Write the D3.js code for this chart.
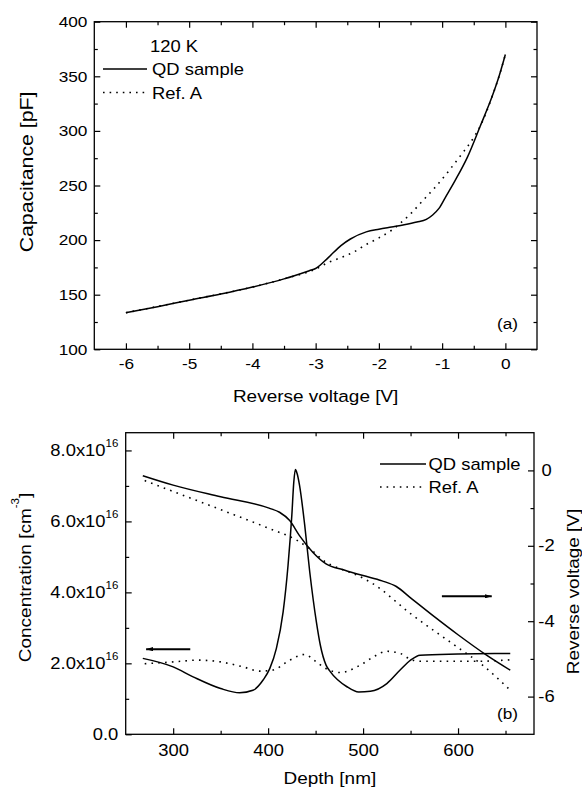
<!DOCTYPE html>
<html>
<head>
<meta charset="utf-8">
<script src="https://cdn.jsdelivr.net/npm/d3@7"></script>
<style>
  body { margin: 0; background: #fff; }
  svg { display: block; font-family: "Liberation Sans", Arial, sans-serif; }
</style>
</head>
<body>
<svg width="582" height="789"></svg>
<script>
// (a) C-V curves at 120 K
const cvVoltQD = [-6, -5.5, -5, -4.5, -4, -3.5, -3.1, -3.0, -2.8, -2.6, -2.45, -2.2, -2.0, -1.8, -1.6, -1.4, -1.25, -1.15, -1.05, -0.95, -0.8, -0.6, -0.4, -0.2, -0.1, 0];
const cvCapQD  = [133.5, 139, 145, 150.6, 157, 164.5, 172, 174, 184, 195, 201, 207.5, 210, 212, 214, 216.5, 219, 223, 229, 239, 254, 276, 304, 333, 350, 370];
const cvVoltRef = [-6, -5, -4, -3.5, -3.0, -2.8, -2.6, -2.4, -2.2, -2.0, -1.8, -1.67, -1.5, -1.3, -1.1, -0.9, -0.7, -0.5, -0.4, -0.2, -0.1, 0];
const cvCapRef  = [133.5, 145, 157, 164.5, 173.5, 179.5, 184, 189, 196, 202, 209, 215, 224, 236.5, 249, 263, 278, 294, 304, 333, 350, 370];

// (b) carrier concentration profiles (x1e16 cm^-3)
const ncDepthQD = [268, 300, 321, 350, 370, 384, 394.7, 401.7, 408.7, 415.8, 421, 425, 427, 428.7, 430.5, 433, 438.5, 443.8, 450.8, 455, 461, 465.6, 483, 495.4, 507.7, 525, 539, 550, 560, 600, 655];
const ncConcQD  = [2.14, 1.90, 1.62, 1.29, 1.17, 1.24, 1.53, 1.85, 2.42, 3.45, 4.77, 6.19, 7.1, 7.46, 7.35, 7.03, 5.9, 4.58, 3.17, 2.51, 1.95, 1.76, 1.34, 1.19, 1.21, 1.43, 1.81, 2.09, 2.23, 2.26, 2.28];
const ncDepthRef = [270, 300, 326, 350, 373.7, 391, 405, 422.7, 438.5, 450.8, 461, 476, 497, 512, 525, 539, 550, 560, 600, 623, 655];
const ncConcRef  = [1.99, 2.04, 2.09, 2.04, 1.90, 1.78, 1.81, 2.09, 2.25, 2.04, 1.85, 1.74, 1.95, 2.2, 2.34, 2.28, 2.11, 2.06, 2.06, 2.06, 2.10];

// (b) reverse voltage vs depth
const vDepthQD = [268, 300, 350, 401, 412, 422.7, 433, 447, 461, 480, 500, 520, 535, 550, 575, 600, 630, 655];
const vVoltQD  = [-0.14, -0.39, -0.70, -1.0, -1.11, -1.33, -1.73, -2.17, -2.48, -2.64, -2.79, -2.93, -3.08, -3.38, -3.88, -4.36, -4.9, -5.3];
const vDepthRef = [270, 300, 350, 400, 430, 445, 460, 475, 490, 510, 550, 600, 625, 655];
const vVoltRef  = [-0.27, -0.56, -1.04, -1.53, -1.85, -2.1, -2.42, -2.6, -2.74, -3.0, -3.8, -4.7, -5.15, -5.83];

// ticks
const voltTicks = [-6, -5, -4, -3, -2, -1, 0];
const voltMinor = [-5.5, -4.5, -3.5, -2.5, -1.5, -0.5];
const capTicks = [100, 150, 200, 250, 300, 350, 400];
const capMinor = [125, 175, 225, 275, 325, 375];
const depthTicks = [300, 400, 500, 600];
const depthMinor = [350, 450, 550, 650];
const concTicks = [0, 2, 4, 6, 8];
const concMinor = [1, 3, 5, 7];
const revTicks = [-6, -4, -2, 0];
const revMinor = [-5, -3, -1];

const W = 1.15; // glyphs in the original are a bit wider than Arial
const FONT = "Liberation Sans, Arial, sans-serif";
const svg = d3.select("svg");

const xA = d3.scaleLinear().domain([-6.5, 0.5]).range([94.3, 537]);
const yA = d3.scaleLinear().domain([100, 400]).range([349.3, 21.7]);
const xB = d3.scaleLinear().domain([250, 680]).range([125.7, 534]);
const yB = d3.scaleLinear().domain([0, 8.5]).range([734.3, 432.7]);
const yV = d3.scaleLinear().domain([-7, 1]).range([734.3, 432.7]);

// plain hyphen for negatives, like the original
const plain = d => String(d);

function axis(gen, at, values, minor, pad, fs, fmt) {
  const g = svg.append("g").attr("transform", at);
  g.call(gen.tickValues(values).tickSizeInner(-6).tickSizeOuter(0).tickPadding(pad)
    .tickFormat(fmt === undefined ? plain : fmt));
  g.attr("font-family", FONT).attr("font-size", fs);
  g.select(".domain").remove();
  g.selectAll(".tick line").attr("stroke", "#000").attr("stroke-width", 1.2);
  g.selectAll(".tick text").attr("fill", "#000").attr("transform", `scale(${W},1)`);
  const m = svg.append("g").attr("transform", at);
  m.call(gen.tickValues(minor).tickSizeInner(-3.5).tickFormat(""));
  m.select(".domain").remove();
  m.selectAll(".tick line").attr("stroke", "#000").attr("stroke-width", 1.2);
  return g;
}

function label(txt, x, y, fs, rot, anchor) {
  return svg.append("text")
    .attr("transform", `translate(${x},${y})` + (rot ? ` rotate(${rot})` : "") + ` scale(${W},1)`)
    .attr("font-size", fs)
    .attr("text-anchor", anchor || "start")
    .attr("fill", "#000")
    .text(txt);
}

function line(x, y, xs, ys, dotted) {
  const pts = xs.map((v, i) => [v, ys[i]]);
  svg.append("path")
    .datum(pts)
    .attr("fill", "none")
    .attr("stroke", "#000")
    .attr("stroke-width", dotted ? 1.6 : 1.5)
    .attr("stroke-dasharray", dotted ? "1.6,5.2" : null)
    .attr("d", d3.line().x(d => x(d[0])).y(d => y(d[1])).curve(d3.curveMonotoneX));
}

// ---------- panel (a) ----------
axis(d3.axisBottom(xA), `translate(0,${yA(100)})`, voltTicks, voltMinor, 9, 15);
axis(d3.axisTop(xA), `translate(0,${yA(400)})`, voltTicks, voltMinor, 0, 15, "");
axis(d3.axisLeft(yA), `translate(${xA(-6.5)},0)`, capTicks, capMinor, 6, 15);
axis(d3.axisRight(yA), `translate(${xA(0.5)},0)`, capTicks, capMinor, 0, 15, "");

svg.append("rect")
  .attr("x", xA(-6.5)).attr("y", yA(400))
  .attr("width", xA(0.5) - xA(-6.5)).attr("height", yA(100) - yA(400))
  .attr("fill", "none").attr("stroke", "#000").attr("stroke-width", 1.3);

line(xA, yA, cvVoltRef, cvCapRef, true);
line(xA, yA, cvVoltQD, cvCapQD, false);

label("Capacitance [pF]", 33, 172, 18.5, -90, "middle");
label("Reverse voltage [V]", (xA(-6.5) + xA(0.5)) / 2, 402, 16.5, 0, "middle");
label("(a)", 497, 329, 15);

// legend (a)
label("120 K", 150, 52, 16);
svg.append("line").attr("x1", 103).attr("x2", 147).attr("y1", 69).attr("y2", 69)
  .attr("stroke", "#000").attr("stroke-width", 1.5);
label("QD sample", 152, 75, 16);
svg.append("line").attr("x1", 103).attr("x2", 147).attr("y1", 92.5).attr("y2", 92.5)
  .attr("stroke", "#000").attr("stroke-width", 1.6).attr("stroke-dasharray", "1.6,5");
label("Ref. A", 152, 98.5, 16);

// ---------- panel (b) ----------
axis(d3.axisBottom(xB), `translate(0,${yB(0)})`, depthTicks, depthMinor, 10.5, 16);
axis(d3.axisTop(xB), `translate(0,${yB(8.5)})`, depthTicks, depthMinor, 0, 16, "");
const concAxis = axis(d3.axisLeft(yB), `translate(${xB(250)},0)`, concTicks, concMinor, 6.4, 16);
concAxis.selectAll(".tick text").each(function (d) {
  const t = d3.select(this);
  if (d === 0) { t.text("0.0"); return; }
  t.text(d.toFixed(1) + "x10");
  t.append("tspan").attr("font-size", 10).attr("dy", -9).text("16");
});
const revAxis = axis(d3.axisRight(yV), `translate(${xB(680)},0)`, revTicks, revMinor, 10.9, 16);
revAxis.attr("text-anchor", "middle");

svg.append("rect")
  .attr("x", xB(250)).attr("y", yB(8.5))
  .attr("width", xB(680) - xB(250)).attr("height", yB(0) - yB(8.5))
  .attr("fill", "none").attr("stroke", "#000").attr("stroke-width", 1.3);

line(xB, yB, ncDepthRef, ncConcRef, true);
line(xB, yB, ncDepthQD, ncConcQD, false);
line(xB, yV, vDepthRef, vVoltRef, true);
line(xB, yV, vDepthQD, vVoltQD, false);

const conc = label("Concentration [cm", 31, (yB(0) + yB(8.5)) / 2 - 6, 16.5, -90, "middle");
conc.append("tspan").attr("font-size", 10).attr("dy", -12).text("-3");
conc.append("tspan").attr("dy", 12).text("]");
label("Reverse voltage [V]", 579, (yB(0) + yB(8.5)) / 2 + 8, 16.5, -90, "middle");
label("Depth [nm]", (xB(250) + xB(680)) / 2, 784, 16.5, 0, "middle");
label("(b)", 497, 719, 15);

// legend (b)
svg.append("line").attr("x1", 380).attr("x2", 426).attr("y1", 464).attr("y2", 464)
  .attr("stroke", "#000").attr("stroke-width", 1.5);
label("QD sample", 428.5, 470, 16);
svg.append("line").attr("x1", 380).attr("x2", 426).attr("y1", 487).attr("y2", 487)
  .attr("stroke", "#000").attr("stroke-width", 1.6).attr("stroke-dasharray", "1.6,5");
label("Ref. A", 428.5, 493, 16);

// arrows pointing to the axis each curve belongs to
svg.append("defs").append("marker")
  .attr("id", "head").attr("viewBox", "0 0 10 6").attr("refX", 10).attr("refY", 3)
  .attr("markerWidth", 7).attr("markerHeight", 4.2).attr("markerUnits", "userSpaceOnUse")
  .attr("orient", "auto")
  .append("path").attr("d", "M0,0 L10,3 L0,6 Z").attr("fill", "#000");

svg.append("line")
  .attr("x1", xB(318)).attr("x2", xB(271.5)).attr("y1", yB(2.4)).attr("y2", yB(2.4))
  .attr("stroke", "#000").attr("stroke-width", 2).attr("marker-end", "url(#head)");
svg.append("line")
  .attr("x1", xB(583)).attr("x2", xB(635.5)).attr("y1", yV(-3.34)).attr("y2", yV(-3.34))
  .attr("stroke", "#000").attr("stroke-width", 2).attr("marker-end", "url(#head)");
</script>
</body>
</html>
